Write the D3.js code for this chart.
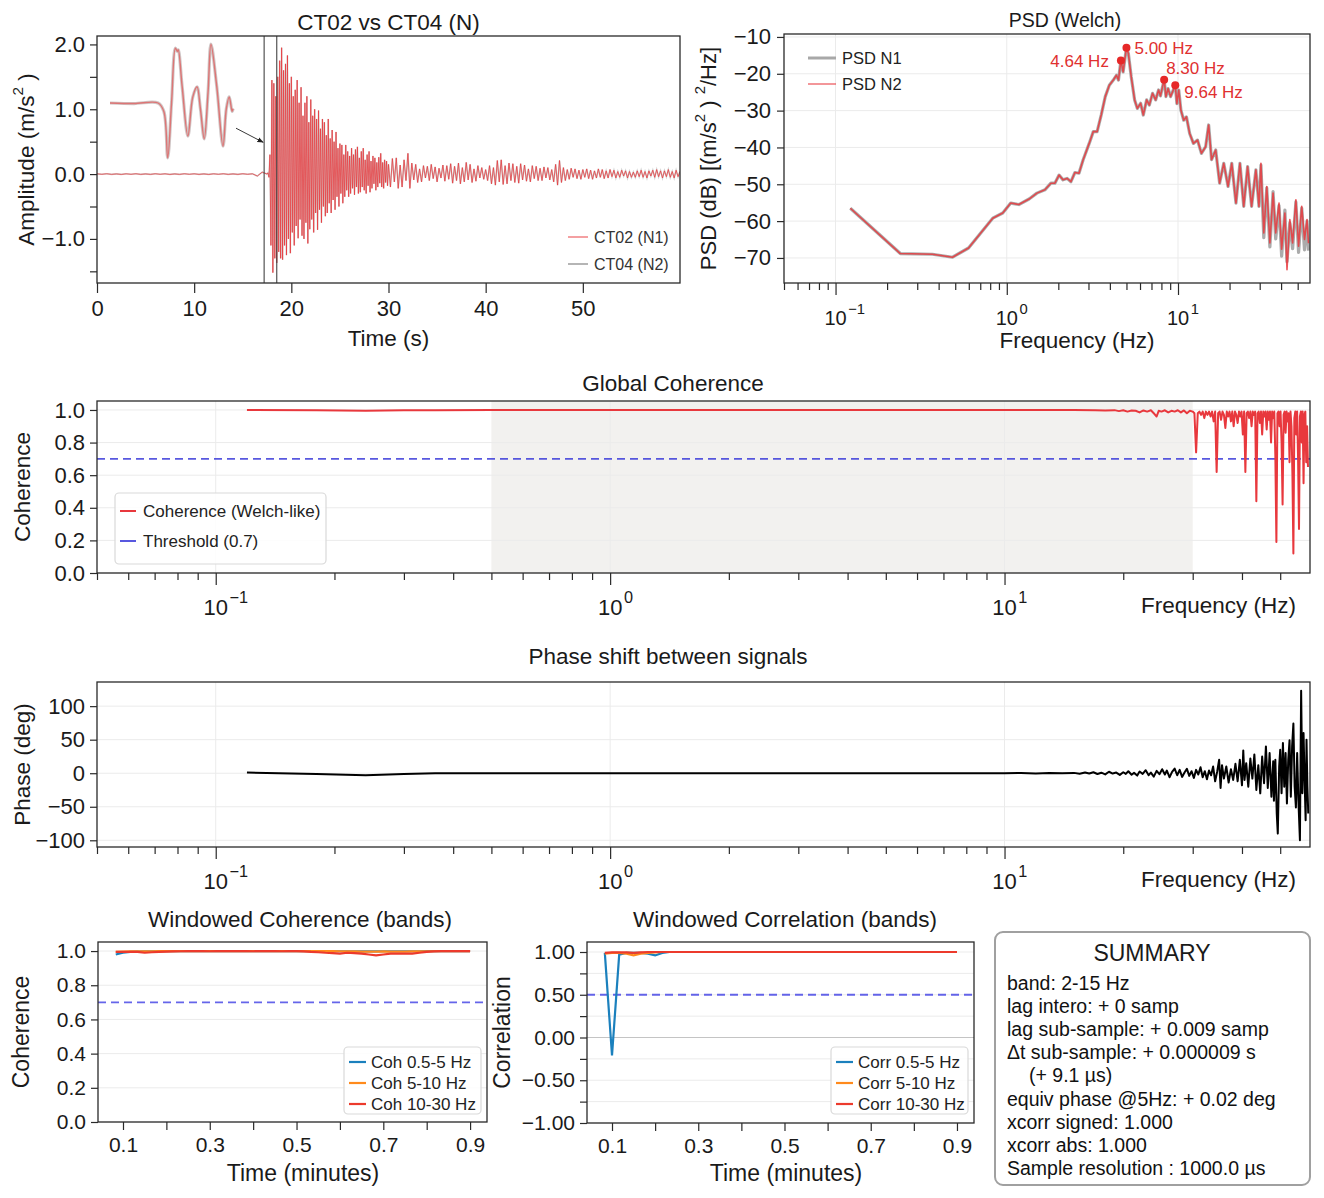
<!DOCTYPE html>
<html><head><meta charset="utf-8">
<script src="https://cdn.jsdelivr.net/npm/d3@7"></script>
<style>body{margin:0;background:#fff}svg{display:block}</style>
</head><body>
<svg id="c" width="1324" height="1198"></svg>
<script>
// ================= DATA =================
const preEventT0 = 0, preEventDt = 0.5;
const preEvent = [0.004,-0.003,0.005,-0.004,0.003,-0.005,0.004,-0.003,0.005,-0.004,0.003,-0.004,0.005,-0.003,0.004,-0.005,0.003,-0.004,0.005,-0.003,0.004,-0.004,0.003,-0.005,0.004,-0.003,0.005,-0.004,0.003,-0.004,0.005,-0.003,0.004,-0.03,0.03];
const strongT0 = 17.5, strongDt = 0.1;
const strongMotion = [
0.00,0.02,-0.05,0.3,-1.1,1.45,-1.52,1.4,-1.3,1.2,
-1.37,1.5,-1.2,1.75,-1.3,1.95,-1.32,1.6,-1.1,1.7,
-1.25,1.83,-1.0,1.4,-1.22,1.5,-0.9,1.2,-1.1,1.3,
-0.8,1.45,-0.99,1.1,-0.7,1.34,-0.95,0.9,-1.0,1.1,
-0.75,1.2,-1.07,0.8,-0.85,1.15,-0.7,0.9,-0.9,1.0,
-0.6,0.85,-0.86,0.98,-0.55,0.7,-0.75,0.85,-0.5,0.8,
-0.65,0.6,-0.6,0.85,-0.45,0.55,-0.6,0.68,-0.4,0.5,
-0.55,0.65,-0.35,0.4,-0.5,0.47,-0.3,0.45,-0.45,0.3,
-0.35,0.45,-0.25,0.35,-0.35,0.28,-0.3,0.4,-0.22,0.3,
-0.32,0.38,-0.2,0.42,-0.3,0.25,-0.28,0.35,-0.2,0.4,
-0.25,0.22,-0.3,0.3,-0.18,0.35,-0.28,0.2,-0.22,0.28,
-0.15,0.25,-0.25,0.18,-0.2,0.26,-0.14,0.32,-0.2,0.18,
-0.22,0.22,-0.13,0.2,-0.18,0.15];
const codaT0 = 30.2, codaDt = 0.2;
const coda = [
-0.2,0.24,-0.12,0.25,-0.22,0.14,-0.2,0.22,-0.1,0.32,
-0.22,0.17,-0.09,0.15,-0.13,0.08,-0.12,0.13,-0.06,0.12,
-0.1,0.15,-0.07,0.11,-0.12,0.09,-0.06,0.14,-0.11,0.13,
-0.08,0.16,-0.14,0.12,-0.1,0.17,-0.15,0.1,-0.12,0.18,
-0.09,0.15,-0.13,0.08,-0.11,0.13,-0.06,0.1,-0.08,0.07,
-0.1,0.13,-0.15,0.1,-0.17,0.21,-0.12,0.22,-0.16,0.13,
-0.15,0.17,-0.1,0.16,-0.13,0.12,-0.14,0.16,-0.09,0.14,
-0.11,0.08,-0.12,0.13,-0.07,0.12,-0.1,0.09,-0.1,0.11,
-0.06,0.1,-0.09,0.07,-0.12,0.15,-0.17,0.21,-0.13,0.1,
-0.1,0.07,-0.08,0.09,-0.05,0.08,-0.07,0.06,-0.08,0.07,
-0.05,0.08,-0.07,0.06,-0.08,0.05,-0.06,0.08,-0.05,0.07,
-0.07,0.05,-0.06,0.07,-0.04,0.06,-0.06,0.04,-0.05,0.06,
-0.03,0.05,-0.06,0.04,-0.05,0.03,-0.05,0.05,-0.04,0.06,
-0.05,0.04,-0.06,0.05,-0.03,0.06,-0.05,0.07,-0.04,0.05,
-0.06,0.05,-0.04,0.07,-0.05,0.04,-0.06,0.06,-0.04,0.04];
const insetWave = [[17.20,0],[17.45,-0.01],[17.70,0],[17.76,-0.15],[17.80,-0.98],[17.84,0.0],[17.88,0.98],[17.90,0.92],[17.91,0.95],[17.95,0.3],[18.01,-0.59],[18.06,0.1],[18.105,0.29],[18.14,-0.1],[18.18,-0.64],[18.22,0.2],[18.25,1.05],[18.31,0.3],[18.375,-0.77],[18.41,-0.1],[18.44,0.11],[18.47,-0.15],[18.48,-0.1]];
const windowMarks = [17.2, 18.5];

const psdFreq = [0.122,0.239,0.368,0.482,0.598,0.828,0.947,1.055,1.176,1.35,1.5,1.67,1.81,1.91,2.02,2.13,2.25,2.37,2.5,2.64,2.79,3.03,3.2,3.37,3.56,3.76,3.97,4.19,4.37,4.49,4.64,4.78,5.0,5.13,5.33,5.58,5.79,6.05,6.27,6.56,6.8,7.1,7.4,7.7,7.9,8.3,8.5,8.75,9.05,9.64,9.85,10.1,10.4,10.8,11.2,11.7,12.3,13.0,13.7,14.5,15.1,15.7,16.6,17.5,18.5,19.6,20.6,21.8,23.0,24.2,25.5,26.9,28.5,29.7,30.5,31.7,33.0,34.4,35.9,37.2,38.9,40.3,42.1,43.3,45.0,46.7,48.8,50.6,52.8,54.8,56.7,57.8];
const psdN2 = [-56.5,-68.8,-69.0,-69.8,-67.3,-59.2,-57.8,-55.1,-55.5,-54.0,-52.4,-51.5,-49.7,-49.7,-47.5,-48.8,-48.4,-49.3,-46.8,-47.0,-43.4,-38.9,-35.7,-35.7,-31.2,-26.2,-23.1,-21.7,-20.4,-21.7,-16.4,-19.5,-12.9,-14.5,-20.8,-27.1,-29.4,-28.0,-31.2,-27.1,-28.5,-25.3,-27.1,-24.4,-26.0,-21.6,-26.2,-24.0,-26.2,-23.1,-28.1,-24.4,-29.9,-32.6,-31.7,-36.2,-38.9,-38.0,-41.6,-39.8,-33.9,-43.3,-40.7,-49.7,-44.3,-50.6,-44.3,-55.1,-44.3,-56.0,-45.2,-56.0,-46.1,-56.0,-44.3,-63.2,-50.6,-65.9,-52.4,-63.2,-55.1,-67.6,-57.8,-73.2,-59.6,-65.9,-54.2,-66.8,-56.0,-65.0,-59.6,-66.0];
const psdN1 = [-56.5,-68.8,-69.0,-69.8,-67.3,-59.2,-57.8,-55.1,-55.5,-54.0,-52.4,-51.5,-49.7,-49.7,-47.5,-48.8,-48.4,-49.3,-46.8,-47.0,-43.4,-38.9,-35.7,-35.7,-31.2,-26.2,-23.1,-21.7,-20.4,-21.7,-16.4,-19.5,-12.9,-14.5,-20.8,-27.1,-29.4,-28.0,-31.2,-27.1,-28.5,-25.3,-27.1,-24.4,-26.0,-21.6,-26.2,-24.0,-26.2,-23.1,-28.1,-24.4,-29.9,-32.6,-31.7,-36.2,-38.9,-38.0,-41.6,-39.8,-33.9,-43.3,-40.7,-49.7,-44.3,-50.6,-44.3,-55.1,-44.3,-56.0,-45.2,-56.0,-46.1,-56.0,-44.8,-64.5,-51.0,-67.0,-52.0,-64.8,-55.8,-69.5,-57.0,-71.0,-60.5,-67.5,-54.8,-68.5,-56.5,-67.8,-60.0,-68.0];
const peakFreq = [4.64, 5.00, 8.30, 9.64];
const peakDb = [-16.4, -12.9, -21.6, -23.1];
const peakLabels = ["4.64 Hz", "5.00 Hz", "8.30 Hz", "9.64 Hz"];

const coherence = [[0.12,1.0],[0.18,0.999],[0.24,0.995],[0.3,0.998],[0.36,0.999],[0.5,1.0],[1,1.0],[2,1.0],[5,1.0],[10,1.0],[15,1.0],[17,0.999],[18,0.997],[19,0.999],[19.5,0.993],[20,0.998],[20.5,0.99],[21,0.997],[21.5,0.995],[22,0.985],[22.5,0.997],[23,0.99],[23.5,0.998],[24,0.975],[24.3,0.96],[24.6,0.995],[25,0.99],[25.5,0.998],[26,0.985],[26.5,0.995],[27,0.99],[27.5,0.998],[28,0.985],[28.5,0.997],[29,0.98],[29.5,0.995],[30,0.99],
[30.3,0.98],[30.6,0.74],[30.9,0.98],[31.2,0.99],[31.5,0.97],[31.8,0.99],[32.1,0.95],[32.4,0.99],[32.7,0.97],[33.0,0.99],[33.3,0.96],[33.6,0.99],[33.9,0.93],[34.2,0.99],[34.5,0.62],[34.8,0.98],[35.1,0.99],[35.4,0.94],[35.7,0.99],[36.0,0.97],[36.3,0.89],[36.6,0.99],[36.9,0.96],[37.2,0.99],[37.5,0.93],[37.8,0.99],[38.1,0.9],[38.4,0.99],[38.7,0.97],[39.0,0.92],[39.3,0.99],[39.6,0.96],[39.9,0.99],[40.2,0.85],[40.5,0.99],[40.8,0.62],[41.1,0.98],[41.4,0.99],[41.7,0.95],[42.0,0.99],[42.3,0.9],[42.6,0.99],[42.9,0.97],[43.2,0.99],[43.5,0.44],[43.8,0.98],[44.1,0.99],[44.4,0.92],[44.7,0.99],[45.0,0.85],[45.3,0.99],[45.6,0.96],[45.9,0.99],[46.2,0.88],[46.5,0.99],[46.8,0.94],[47.1,0.99],[47.4,0.8],[47.7,0.99],[48.0,0.95],[48.3,0.99],[48.6,0.72],[48.9,0.19],[49.2,0.98],[49.5,0.99],[49.8,0.9],[50.1,0.99],[50.4,0.8],[50.7,0.42],[51.0,0.97],[51.3,0.99],[51.6,0.86],[51.9,0.99],[52.2,0.93],[52.5,0.98],[52.8,0.68],[53.1,0.99],[53.4,0.9],[53.7,0.6],[54.0,0.12],[54.3,0.95],[54.6,0.99],[54.9,0.85],[55.2,0.99],[55.5,0.7],[55.8,0.27],[56.1,0.96],[56.4,0.99],[56.7,0.8],[57.0,0.99],[57.3,0.55],[57.6,0.97],[57.9,0.99],[58.2,0.68],[58.5,0.9],[58.8,0.65]];
const coherenceThreshold = 0.7;
const bandLow = 0.5, bandHigh = 30;

const phase = [[0.12,1],[0.18,-1],[0.24,-3],[0.3,-1],[0.36,0],[0.5,0],[1,0],[2,0],[5,0],[10,0],[11,0.3],[12,-0.3],[13,0.4],[14,-0.2],[15,0.5],[15.5,-0.8],[16,1.2],[16.4,-0.5],[16.8,1.5],[17.2,-1.2],[17.6,0.8],[18,-1.8],[18.4,2.2],[18.8,-0.5],[19.2,1.0],[19.6,-2.5],[20,1.5],[20.3,-1],[20.6,3],[21,-2.2],[21.3,0.5],[21.7,-3.5],[22,2.5],[22.4,-1],[22.8,4.5],[23.2,-3],[23.5,1],[23.9,-5],[24.3,3.5],[24.7,-1.5],[25.1,6],[25.5,-2],[25.8,4],[26.2,-6],[26.6,2],[27,7],[27.4,-3],[27.8,5],[28.2,-5.5],[28.6,1],[29,6.5],[29.4,-4],[29.8,3],[30.2,-7],[30.6,5],[31,-2],[31.4,9],[31.8,-6],[32.2,3],[32.6,-9],[33,4],[33.4,-3],[33.8,10],[34.2,-12],[34.6,2],[35,20],[35.3,-22],[35.6,12],[36,-8],[36.5,10],[37,-14],[37.5,6],[38,-10],[38.5,14],[39,-12],[39.5,20],[40,-18],[40.3,34],[40.6,-10],[41,15],[41.5,-20],[42,22],[42.5,-8],[43,28],[43.5,-25],[44,12],[44.5,-30],[45,25],[45.5,-15],[46,40],[46.5,-22],[47,30],[47.5,-35],[48,18],[48.2,-41],[48.6,20],[49,-60],[49.3,-90],[49.7,10],[50,35],[50.4,-30],[50.8,45],[51.2,-20],[51.6,30],[52,-45],[52.4,20],[52.8,49],[53.2,-35],[53.6,40],[54,74],[54.4,-20],[54.8,-51],[55.2,30],[55.6,-40],[56.1,-100],[56.5,123],[56.9,-30],[57.3,60],[57.6,0],[58,-70],[58.3,50],[58.6,-20],[58.9,-60]];

const winTimeSec = [5,6,7,8,9,10,11,12,13,14,15,16,17,18,19,20,21,22,23,24,25,26,27,28,29,30,31,32,33,34,35,36,37,38,39,40,41,42,43,44,45,46,47,48,49,50,51,52,53,54];
const cohWin05_5 = [0.98,0.99,0.995,0.997,0.998,0.999,0.999,1,1,1, 1,1,1,1,1,1,1,1,1,1, 1,1,1,1,1,1,1,1,1,1, 0.999,0.999,0.999,0.998,0.998,0.999,0.998,0.999,0.999,0.999, 0.999,0.999,0.999,1,1,1,1,1,1,1];
const cohWin5_10 = [0.995,0.997,0.998,0.999,0.998,0.999,1,1,1,1, 1,1,1,1,1,1,1,1,1,1, 1,1,1,1,1,1,1,1,1,1, 1,0.999,0.998,0.998,0.997,0.997,0.997,0.998,0.997,0.997, 0.997,0.998,0.998,0.999,0.999,1,1,1,1,1];
const cohWin10_30 = [0.995,0.995,0.996,0.995,0.99,0.993,0.995,0.997,0.998,0.999, 1,1,1,0.999,1,1,1,1,1,0.999, 1,1,1,0.999,1,1,0.998,0.995,0.993,0.99, 0.988,0.985,0.99,0.988,0.985,0.98,0.975,0.98,0.985,0.985, 0.985,0.985,0.99,0.995,0.998,1,1,1,1,1];
const corrWin05_5 = [0.99,-0.21,0.97,0.99,0.99,0.99,0.98,0.96,0.99,1, 1,1,1,1,1,1,1,1,1,1, 1,1,1,1,1,1,1,1,1,1, 1,1,1,1,1,1,1,1,1,1, 1,1,1,1,1,1,1,1,1,1];
const corrWin5_10 = [0.98,0.99,0.99,0.98,0.96,0.98,0.99,0.995,1,1, 1,1,1,1,1,1,1,1,1,1, 1,1,1,1,1,1,1,1,1,1, 1,1,1,1,1,1,1,1,1,1, 1,1,1,1,1,1,1,1,1,1];
const corrWin10_30 = [0.99,0.995,0.995,0.995,0.99,0.995,1,1,1,1, 1,1,1,1,1,1,1,1,1,1, 1,1,1,1,1,1,1,1,1,1, 1,1,1,1,1,1,1,1,1,1, 1,1,1,1,1,1,1,1,1,1];
const corrThreshold = 0.5;
const cohBandNames = ["Coh 0.5-5 Hz", "Coh 5-10 Hz", "Coh 10-30 Hz"];
const corrBandNames = ["Corr 0.5-5 Hz", "Corr 5-10 Hz", "Corr 10-30 Hz"];

const ampTicks = [-1.0, 0.0, 1.0, 2.0];
const ampMinor = [-1.5, -0.5, 0.5, 1.5];
const timeTicks = [0, 10, 20, 30, 40, 50];
const psdTicks = [-70, -60, -50, -40, -30, -20, -10];
const decadeExps = [-1, 0, 1];
const cohTicks = [0, 0.2, 0.4, 0.6, 0.8, 1.0];
const phaseTicks = [-100, -50, 0, 50, 100];
const minuteTicks = [0.1, 0.2, 0.3, 0.4, 0.5, 0.6, 0.7, 0.8, 0.9];
const minuteLabeled = [0.1, 0.3, 0.5, 0.7, 0.9];
const corrTicks = [-1, -0.5, 0, 0.5, 1];
const corrMinor = [-0.75, -0.25, 0.25, 0.75];

const summaryTitle = "SUMMARY";
const summaryLines = ["band: 2-15 Hz","lag intero: + 0 samp","lag sub-sample: + 0.009 samp","Δt sub-sample: + 0.000009 s","  (+ 9.1 µs)","equiv phase @5Hz: + 0.02 deg","xcorr signed: 1.000","xcorr abs: 1.000","Sample resolution : 1000.0 µs"];

// ================= DRAWING =================
const FONT = '"Liberation Sans", Arial, Helvetica, sans-serif';
const RED = '#e8383d', BLUE_T = '#3b3bd9', INK = '#1a1a1a', SPINE = '#2a2a2a', GRID = '#ebebeb';
const C_BLUE = '#1b80bd', C_ORANGE = '#ff8a1c', C_RED = '#ec3a2c';
const svg = d3.select('#c');
svg.append('rect').attr('width',1324).attr('height',1198).attr('fill','#fff');
const defs = svg.append('defs');
let clipN = 0;
function clip(x0,y0,x1,y1){const id='cp'+(clipN++);defs.append('clipPath').attr('id',id).append('rect').attr('x',x0).attr('y',y0).attr('width',x1-x0).attr('height',y1-y0);return `url(#${id})`;}
function txt(x,y,s,fs,anchor,fill){return svg.append('text').attr('x',x).attr('y',y).attr('font-size',fs).attr('font-family',FONT).attr('text-anchor',anchor||'middle').attr('fill',fill||INK).text(s);}
function vlabel(x,yc,fs,parts){const t=svg.append('text').attr('transform',`translate(${x},${yc}) rotate(-90)`).attr('font-size',fs).attr('font-family',FONT).attr('text-anchor','middle').attr('dominant-baseline','central').attr('fill',INK);
  parts.forEach(p=>{const s=t.append('tspan').text(p.t); if(p.sup){s.attr('font-size',fs*0.68).attr('baseline-shift','super');}});return t;}
function frame(x0,y0,x1,y1){svg.append('rect').attr('x',x0).attr('y',y0).attr('width',x1-x0).attr('height',y1-y0).attr('fill','none').attr('stroke',SPINE).attr('stroke-width',1.3);}
function styleAxis(g,fs){g.select('.domain').remove();g.selectAll('.tick line').attr('stroke',SPINE).attr('stroke-width',1.2);g.selectAll('.tick text').attr('font-size',fs).attr('font-family',FONT).attr('fill',INK);return g;}
function axisB(scale,y,vals,size,pad,fmt,fs){return styleAxis(svg.append('g').attr('transform',`translate(0,${y})`).call(d3.axisBottom(scale).tickValues(vals).tickSize(size).tickPadding(pad).tickFormat(fmt)),fs);}
function axisL(scale,x,vals,size,pad,fmt,fs){return styleAxis(svg.append('g').attr('transform',`translate(${x},0)`).call(d3.axisLeft(scale).tickValues(vals).tickSize(size).tickPadding(pad).tickFormat(fmt)),fs);}
function gridH(scale,vals,x0,x1,col){svg.append('g').selectAll('line').data(vals).join('line').attr('x1',x0).attr('x2',x1).attr('y1',d=>scale(d)).attr('y2',d=>scale(d)).attr('stroke',col||GRID).attr('stroke-width',1);}
function gridV(scale,vals,y0,y1){svg.append('g').selectAll('line').data(vals).join('line').attr('y1',y0).attr('y2',y1).attr('x1',d=>scale(d)).attr('x2',d=>scale(d)).attr('stroke',GRID).attr('stroke-width',1);}
function logMinors(scale){const [a,b]=scale.domain();const out=[];for(let e=Math.floor(Math.log10(a));e<=Math.ceil(Math.log10(b));e++){for(let m=2;m<=9;m++){const v=m*Math.pow(10,e);if(v>=a&&v<=b)out.push(v);}}return out;}
function logAxis(scale,y,fs,baseY){
  axisB(scale,y,logMinors(scale),7,3,()=> '',fs);
  const maj=decadeExps.map(e=>Math.pow(10,e));
  axisB(scale,y,maj,12,3,()=> '',fs);
  decadeExps.forEach(e=>{const t=svg.append('text').attr('x',scale(Math.pow(10,e))-fs*0.556).attr('y',baseY).attr('font-size',fs).attr('font-family',FONT).attr('text-anchor','start').attr('fill',INK);
    t.append('tspan').text('10');t.append('tspan').attr('dx',1.5).attr('dy',-fs*0.55).attr('font-size',fs*0.74).text(e<0?'\u2212'+(-e):String(e));});
}
function legendBox(x0,y0,x1,y1){svg.append('rect').attr('x',x0).attr('y',y0).attr('width',x1-x0).attr('height',y1-y0).attr('rx',4).attr('fill','#fff').attr('fill-opacity',0.85).attr('stroke','#d9d9d9').attr('stroke-width',1.2);}
function legendLine(x0,x1,y,col,w,dash,op){const l=svg.append('line').attr('x1',x0).attr('x2',x1).attr('y1',y).attr('y2',y).attr('stroke',col).attr('stroke-width',w).attr('stroke-opacity',op==null?1:op);if(dash)l.attr('stroke-dasharray',dash);}

// ---------- Panel 1 : time series ----------
{
  const L=97,R=680,T=36,B=283;
  const x=d3.scaleLinear([0,60],[L,R]), y=d3.scaleLinear([-1.68,2.13],[B,T]);
  const pts=[];
  preEvent.forEach((v,i)=>pts.push([preEventT0+i*preEventDt,v]));
  strongMotion.forEach((v,i)=>pts.push([strongT0+i*strongDt,v]));
  coda.forEach((v,i)=>pts.push([codaT0+i*codaDt,v]));
  const line=d3.line().x(d=>x(d[0])).y(d=>y(d[1]));
  const g=svg.append('g').attr('clip-path',clip(L,T,R,B));
  g.append('path').attr('d',line(pts)).attr('fill','none').attr('stroke','#9a9a9a').attr('stroke-width',1.6).attr('stroke-opacity',0.45);
  g.append('path').attr('d',line(pts)).attr('fill','none').attr('stroke',RED).attr('stroke-width',0.9).attr('stroke-opacity',0.85);
  g.selectAll('.wm').data(windowMarks).join('line').attr('x1',d=>x(d)).attr('x2',d=>x(d)).attr('y1',T).attr('y2',B).attr('stroke','#444').attr('stroke-width',1.1);
  const ix=d3.scaleLinear([17.2,18.5],[110,235]), iy=d3.scaleLinear([-1,1],[159,47]);
  const il=d3.line().x(d=>ix(d[0])).y(d=>iy(d[1])).curve(d3.curveCatmullRom);
  svg.append('path').attr('d',il(insetWave)).attr('fill','none').attr('stroke','#b0a0a0').attr('stroke-width',3.2).attr('stroke-opacity',0.6);
  svg.append('path').attr('d',il(insetWave)).attr('fill','none').attr('stroke','#e06060').attr('stroke-width',1.4).attr('stroke-opacity',0.8);
  defs.append('marker').attr('id','arr').attr('viewBox','0 0 10 10').attr('refX',9).attr('refY',5).attr('markerWidth',7).attr('markerHeight',7).attr('orient','auto')
    .append('path').attr('d','M0,1 L10,5 L0,9 z').attr('fill','#222');
  svg.append('line').attr('x1',ix(18.5)+1).attr('y1',iy(-0.45)).attr('x2',x(windowMarks[0])-1).attr('y2',y(0.49)).attr('stroke','#222').attr('stroke-width',0.9).attr('marker-end','url(#arr)');
  frame(L,T,R,B);
  axisL(y,L,ampMinor,7,4,()=> '',22);
  axisL(y,L,ampTicks,7,5,d3.format('.1f'),22);
  axisB(x,B,timeTicks,10,7,d3.format('d'),22);
  txt((L+R)/2,30,'CT02 vs CT04 (N)',22.5);
  txt((L+R)/2,346,'Time (s)',22.5);
  vlabel(26,(T+B)/2,22.5,[{t:'Amplitude (m/s'},{t:'2',sup:true},{t:' )'}]);
  legendLine(568,588,237,RED,1.2,null,0.8); txt(594,242.5,'CT02 (N1)',16,'start','#333');
  legendLine(568,588,264,'#b5b5b5',2,null,1); txt(594,269.5,'CT04 (N2)',16,'start','#333');
}

// ---------- Panel 2 : PSD ----------
{
  const L=784,R=1310,T=34,B=283;
  const x=d3.scaleLog([0.05,59],[L,R]), y=d3.scaleLinear([-76.8,-9.2],[B,T]);
  gridH(y,psdTicks,L,R); gridV(x,decadeExps.map(e=>Math.pow(10,e)),T,B);
  const line=d3.line().x((d,i)=>x(psdFreq[i])).y(d=>y(d));
  const g=svg.append('g').attr('clip-path',clip(L,T,R,B));
  g.append('path').attr('d',line(psdN1)).attr('fill','none').attr('stroke','#9c9c9c').attr('stroke-width',3.2).attr('stroke-opacity',0.85).attr('stroke-linejoin','round');
  g.append('path').attr('d',line(psdN2)).attr('fill','none').attr('stroke',RED).attr('stroke-width',1.6).attr('stroke-opacity',0.85).attr('stroke-linejoin','round');
  const offs=[[-12,0,'end'],[8,0,'start'],[2,-12,'start'],[9,7,'start']];
  peakFreq.forEach((f,i)=>{
    svg.append('circle').attr('cx',x(f)).attr('cy',y(peakDb[i])).attr('r',4).attr('fill','#e62828');
    txt(x(f)+offs[i][0],y(peakDb[i])+offs[i][1]+6,peakLabels[i],17,offs[i][2],'#e03030');
  });
  frame(L,T,R,B);
  axisL(y,L,psdTicks,7,6,d=>d3.format('d')(d),22);
  logAxis(x,B,20,325);
  txt(1065,27,'PSD (Welch)',19.5);
  txt(1077,348,'Frequency (Hz)',22.5);
  vlabel(708,(T+B)/2,22,[{t:'PSD (dB) [(m/s'},{t:'2',sup:true},{t:' ) '},{t:'2',sup:true},{t:'/Hz]'}]);
  legendLine(808,836,58,'#a8a8a8',3,null,1); txt(842,64,'PSD N1',16.5,'start','#222');
  legendLine(808,836,84,RED,1.5,null,0.7); txt(842,90,'PSD N2',16.5,'start','#222');
}

// ---------- Panel 3 : Global coherence ----------
{
  const L=97,R=1310,T=401,B=573;
  const x=d3.scaleLog([0.05,59.5],[L,R]), y=d3.scaleLinear([0,1.055],[B,T]);
  svg.append('rect').attr('x',x(bandLow)).attr('y',T).attr('width',x(bandHigh)-x(bandLow)).attr('height',B-T).attr('fill','#f2f1ef');
  gridH(y,cohTicks,L,R); gridV(x,decadeExps.map(e=>Math.pow(10,e)),T,B);
  const g=svg.append('g').attr('clip-path',clip(L,T,R,B));
  g.append('line').attr('x1',L).attr('x2',R).attr('y1',y(coherenceThreshold)).attr('y2',y(coherenceThreshold)).attr('stroke',BLUE_T).attr('stroke-width',1.8).attr('stroke-dasharray','8,5').attr('stroke-opacity',0.85);
  g.append('path').attr('d',d3.line().x(d=>x(d[0])).y(d=>y(d[1]))(coherence)).attr('fill','none').attr('stroke',RED).attr('stroke-width',2).attr('stroke-linejoin','round');
  frame(L,T,R,B);
  axisL(y,L,cohTicks,7,5,d3.format('.1f'),22);
  logAxis(x,B,22,615);
  txt(673,391,'Global Coherence',22.5);
  txt(1296,613,'Frequency (Hz)',22.5,'end');
  vlabel(22,(T+B)/2,22.5,[{t:'Coherence'}]);
  legendBox(115,493,326,564);
  legendLine(120,136,511,RED,2); txt(143,517,'Coherence (Welch-like)',17,'start','#222');
  legendLine(120,136,541,BLUE_T,2,null,0.85); txt(143,547,'Threshold (0.7)',17,'start','#222');
}

// ---------- Panel 4 : Phase ----------
{
  const L=97,R=1310,T=682,B=847;
  const x=d3.scaleLog([0.05,59.5],[L,R]), y=d3.scaleLinear([-110,136],[B,T]);
  gridH(y,phaseTicks,L,R); gridV(x,decadeExps.map(e=>Math.pow(10,e)),T,B);
  const g=svg.append('g').attr('clip-path',clip(L,T,R,B));
  g.append('path').attr('d',d3.line().x(d=>x(d[0])).y(d=>y(d[1]))(phase)).attr('fill','none').attr('stroke','#000').attr('stroke-width',2).attr('stroke-linejoin','round');
  frame(L,T,R,B);
  axisL(y,L,phaseTicks,7,5,d=>d3.format('d')(d),22);
  logAxis(x,B,22,889);
  txt(668,664,'Phase shift between signals',22.5);
  txt(1296,887,'Frequency (Hz)',22.5,'end');
  vlabel(22,(T+B)/2,22.5,[{t:'Phase (deg)'}]);
}

// ---------- Panel 5 : Windowed coherence ----------
{
  const L=98,R=487,T=942,B=1122;
  const x=d3.scaleLinear([0.0424,0.939],[L,R]), y=d3.scaleLinear([0,1.053],[B,T]);
  gridH(y,cohTicks,L,R);
  const g=svg.append('g').attr('clip-path',clip(L,T,R,B));
  g.append('line').attr('x1',L).attr('x2',R).attr('y1',y(coherenceThreshold)).attr('y2',y(coherenceThreshold)).attr('stroke','#4a4ae6').attr('stroke-width',1.8).attr('stroke-dasharray','8,5').attr('stroke-opacity',0.85);
  const series=[[cohWin05_5,C_BLUE],[cohWin5_10,C_ORANGE],[cohWin10_30,C_RED]];
  series.forEach(([vals,col])=>{
    g.append('path').attr('d',d3.line().x((d,i)=>x(winTimeSec[i]/60)).y(d=>y(d))(vals)).attr('fill','none').attr('stroke',col).attr('stroke-width',2.2);
  });
  frame(L,T,R,B);
  axisL(y,L,cohTicks,7,5,d3.format('.1f'),21);
  axisB(x,B,minuteTicks,8,7,d=>minuteLabeled.some(v=>Math.abs(v-d)<1e-9)?d3.format('.1f')(d):'',21);
  txt(300,927,'Windowed Coherence (bands)',22.5);
  txt(303,1181,'Time (minutes)',23);
  vlabel(21,(T+B)/2,23,[{t:'Coherence'}]);
  legendBox(344,1047,481,1114);
  series.forEach(([v,col],i)=>{legendLine(349,366,1062+i*21,col,2.2);txt(371,1068+i*21,cohBandNames[i],17,'start','#222');});
}

// ---------- Panel 6 : Windowed correlation ----------
{
  const L=587,R=974,T=942,B=1123;
  const x=d3.scaleLinear([0.042,0.9395],[L,R]), y=d3.scaleLinear([-1,1.117],[B,T]);
  gridH(y,corrTicks.concat(corrMinor),L,R);
  const g=svg.append('g').attr('clip-path',clip(L,T,R,B));
  g.append('line').attr('x1',L).attr('x2',R).attr('y1',y(0)).attr('y2',y(0)).attr('stroke','#c4c4c4').attr('stroke-width',1.2);
  g.append('line').attr('x1',L).attr('x2',R).attr('y1',y(corrThreshold)).attr('y2',y(corrThreshold)).attr('stroke','#4a4ae6').attr('stroke-width',1.8).attr('stroke-dasharray','8,5').attr('stroke-opacity',0.85);
  const series=[[corrWin05_5,C_BLUE],[corrWin5_10,C_ORANGE],[corrWin10_30,C_RED]];
  series.forEach(([vals,col])=>{
    g.append('path').attr('d',d3.line().x((d,i)=>x(winTimeSec[i]/60)).y(d=>y(d))(vals)).attr('fill','none').attr('stroke',col).attr('stroke-width',2.2);
  });
  frame(L,T,R,B);
  axisL(y,L,corrMinor,7,5,()=> '',21);
  axisL(y,L,corrTicks,7,5,d3.format('.2f'),21);
  axisB(x,B,minuteTicks,8,7,d=>minuteLabeled.some(v=>Math.abs(v-d)<1e-9)?d3.format('.1f')(d):'',21);
  txt(785,927,'Windowed Correlation (bands)',22.5);
  txt(786,1181,'Time (minutes)',23);
  vlabel(502,(T+B)/2,23,[{t:'Correlation'}]);
  legendBox(831,1047,968,1114);
  series.forEach(([v,col],i)=>{legendLine(836,853,1062+i*21,col,2.2);txt(858,1068+i*21,corrBandNames[i],17,'start','#222');});
}

// ---------- Summary box ----------
{
  svg.append('rect').attr('x',995).attr('y',932).attr('width',315).attr('height',253).attr('rx',8).attr('fill','#fff').attr('stroke','#a0a0a0').attr('stroke-width',2);
  txt(1152,961,summaryTitle,23);
  summaryLines.forEach((s,i)=>{
    const indent=s.startsWith('  ')?22:0;
    txt(1007+indent,990+i*23.1,s.trim(),19.5,'start','#111');
  });
}
</script>
</body></html>
